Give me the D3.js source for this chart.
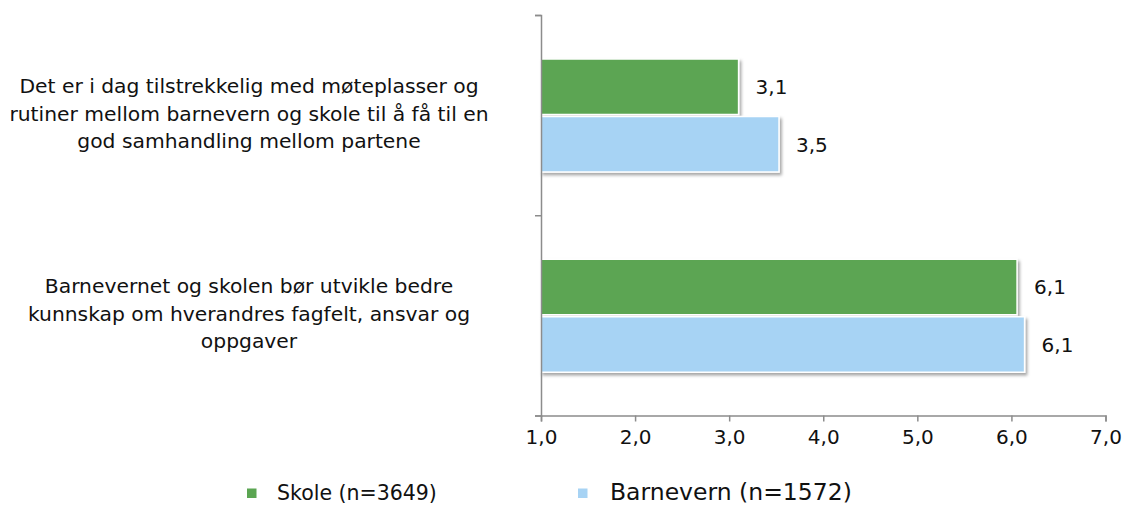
<!DOCTYPE html>
<html>
<head>
<meta charset="utf-8">
<script src="https://cdn.jsdelivr.net/npm/d3@7"></script>
<style>
  body { margin: 0; background: #fff; }
  text { font-family: Verdana, "DejaVu Sans", sans-serif; fill: #111; }
</style>
</head>
<body>
<svg id="chart" width="1131" height="505"></svg>
<script>
// data
const categories = [
  ["Det er i dag tilstrekkelig med møteplasser og", "rutiner mellom barnevern og skole til å få til en", "god samhandling mellom partene"],
  ["Barnevernet og skolen bør utvikle bedre", "kunnskap om hverandres fagfelt, ansvar og", "oppgaver"]
];
const seriesNames = ["Skole (n=3649)", "Barnevern (n=1572)"];
const skole = [3.1, 6.06];
const barnevern = [3.53, 6.14];
const xTicks = [1, 2, 3, 4, 5, 6, 7];
const colors = ["#5ba552", "#a7d3f4"];

const no = d3.formatLocale({ decimal: ",", thousands: " ", grouping: [3], currency: ["", " kr"] });
const fmt = no.format(".1f");

const svg = d3.select("#chart");

const defs = svg.append("defs");
const f = defs.append("filter").attr("id", "shadow")
  .attr("x", "-5%").attr("y", "-10%").attr("width", "115%").attr("height", "130%");
f.append("feDropShadow").attr("dx", 2).attr("dy", 2.5).attr("stdDeviation", 1.5)
  .attr("flood-color", "#000").attr("flood-opacity", 0.35);

const x = d3.scaleLinear().domain([1, 7]).range([541, 1105.5]);
const y0 = d3.scaleBand().domain(d3.range(categories.length)).range([15, 415.5]);
const y1 = d3.scaleBand().domain(d3.range(seriesNames.length)).range([44, 157]).paddingInner(0.035);
const yEdge = d3.scaleLinear().domain([0, categories.length]).range([15, 415.5]);

const rows = [];
categories.forEach((c, i) => {
  rows.push({ cat: i, s: 0, v: skole[i] });
  rows.push({ cat: i, s: 1, v: barnevern[i] });
});

// bars
svg.append("g").selectAll("rect").data(rows).join("rect")
  .attr("x", x(1))
  .attr("y", d => y0(d.cat) + y1(d.s))
  .attr("width", d => x(d.v) - x(1))
  .attr("height", y1.bandwidth())
  .attr("fill", d => colors[d.s])
  .attr("stroke", "#fff")
  .attr("stroke-width", 1.5)
  .attr("filter", "url(#shadow)");

// value labels
svg.append("g").selectAll("text").data(rows).join("text")
  .attr("x", d => x(d.v) + 17)
  .attr("y", d => y0(d.cat) + y1(d.s) + y1.bandwidth() / 2 + 2)
  .attr("dominant-baseline", "middle")
  .style("font-size", "20px")
  .text(d => fmt(d.v));

// axes
const axisColor = "#8c8c8c";
const gx = svg.append("g").attr("transform", "translate(0,415.5)")
  .call(d3.axisBottom(x).tickValues(xTicks).tickFormat(fmt).tickSizeOuter(0).tickSize(6).tickPadding(8));
const gy = svg.append("g").attr("transform", "translate(541,0)")
  .call(d3.axisLeft(yEdge).ticks(categories.length).tickFormat("").tickSizeOuter(0).tickSize(6));
[gx, gy].forEach(g => {
  g.selectAll("path, line").attr("stroke", axisColor).attr("stroke-width", 1.5);
  g.selectAll("text").style("font-size", "20px").attr("fill", "#111")
    .style("font-family", 'Verdana, "DejaVu Sans", sans-serif');
});

// category labels
const lineH = 27.5;
svg.append("g").selectAll("text").data(categories).join("text")
  .attr("text-anchor", "middle")
  .style("font-size", "20.3px")
  .each(function(lines, i) {
    const cy = y0(i) + y0.bandwidth() / 2;
    d3.select(this).selectAll("tspan").data(lines).join("tspan")
      .attr("x", 249)
      .attr("y", (d, j) => cy + (j - (lines.length - 1) / 2) * lineH)
      .attr("dominant-baseline", "middle")
      .text(d => d);
  });

// legend
const legend = [
  { name: seriesNames[0], color: colors[0], sx: 247, tx: 277, size: 20.5 },
  { name: seriesNames[1], color: colors[1], sx: 578, tx: 610, size: 23.5 }
];
const lg = svg.append("g").selectAll("g").data(legend).join("g");
lg.append("rect").attr("x", d => d.sx).attr("y", 488.5).attr("width", 9.5).attr("height", 9.5)
  .attr("fill", d => d.color);
lg.append("text").attr("x", d => d.tx).attr("y", 499.5)
  .style("font-size", d => d.size + "px")
  .text(d => d.name);
</script>
</body>
</html>
